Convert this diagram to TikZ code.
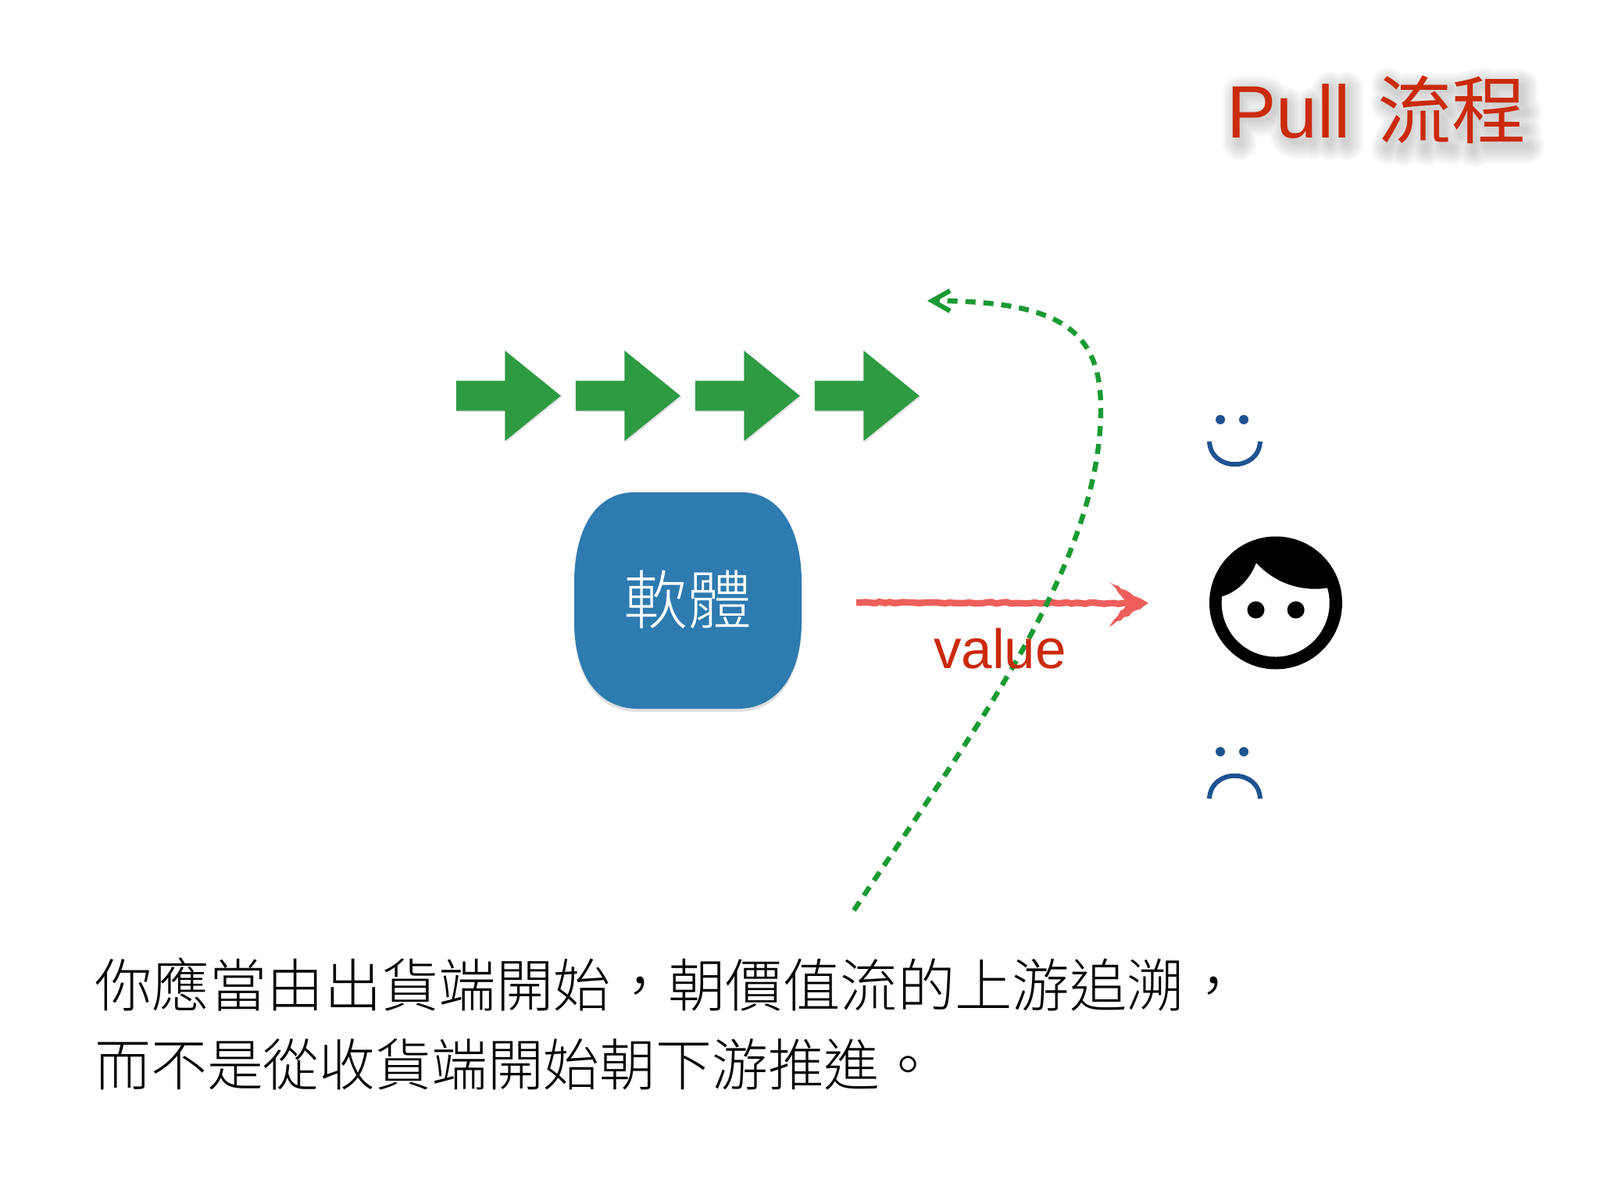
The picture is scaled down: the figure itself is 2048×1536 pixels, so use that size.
\documentclass[tikz,border=0pt]{standalone}
\usepackage{fontspec}
\usetikzlibrary{arrows.meta,shapes.arrows,decorations.pathmorphing}
\setmainfont{Liberation Sans}
\newfontfamily\cjk{Noto Sans CJK TC Light}
\newfontfamily\cjkreg{Noto Sans CJK TC}
\definecolor{titlered}{HTML}{CB2A0C}
\definecolor{flowgreen}{HTML}{2E9B43}
\definecolor{dashgreen}{HTML}{1A9A33}
\definecolor{boxblue}{HTML}{2E7BB0}
\definecolor{valuered}{HTML}{EE5F5B}
\definecolor{faceblue}{HTML}{1D5390}
\tikzset{
  x=0.5pt,y=-0.5pt,
  flowarrow/.style={single arrow,fill=flowgreen,draw=none,minimum height=67pt,minimum width=57.5pt,
    inner xsep=0pt,inner ysep=9.35pt,outer sep=0pt,single arrow head extend=19.4pt,single arrow tip angle=78,
    preaction={fill=black,opacity=.12,transform canvas={shift={(0.8pt,-0.8pt)}}}},
  titletext/.style={anchor=base west,inner sep=0pt,font=\fontsize{47.5}{50}\selectfont},
  caption/.style={anchor=west,inner sep=0pt,align=left,font=\cjk\fontsize{36.7}{50.5}\selectfont,text=black},
  facearc/.style={draw=faceblue,line width=3pt},
}
\begin{document}
\begin{tikzpicture}
\useasboundingbox (0,0) rectangle (2048,1536);
\fill[white] (0,0) rectangle (2048,1536);

% title shadow: letter skeletons, stacked soft strokes
\begin{scope}[shift={(1505,67)},x=0.16667pt,y=-0.16667pt]
\foreach \w in {4,7,10,13,16,19,22}{
  \draw[black!75,opacity=.034,line width=\w pt,line cap=round,line join=round]
    (245,348)--(245,155)--(330,155)..controls(395,155)and(395,255)..(330,255)--(245,255)
    (425,200)--(425,310)..controls(430,355)and(510,355)..(525,310)
    (525,200)--(525,345)
    (590,140)--(590,348)
    (655,140)--(655,348)
    (815,125)--(860,160)
    (812,195)--(860,230)
    (815,365)--(860,270)
    (880,145)--(1055,145)
    (890,225)--(1045,215)
    (1010,170)--(1050,235)
    (900,250)--(890,330)--(870,370)
    (960,250)--(960,370)
    (1025,250)--(1025,360)--(1060,365)
    (1095,145)--(1190,125)
    (1095,200)--(1190,200)
    (1145,130)--(1145,375)
    (1140,210)--(1090,315)
    (1145,235)--(1190,280)
    (1225,130)--(1325,130)--(1325,200)--(1225,200)--cycle
    (1205,245)--(1340,230)
    (1205,298)--(1340,298)
    (1270,235)--(1270,360)
    (1190,360)--(1350,360);
}
\end{scope}
% title
\node[titletext,text=titlered] (title) at (1570,176) {Pull\kern17.5pt{\cjkreg\fontsize{47.5}{50}\selectfont 流程}};

% flow arrows
\node[flowarrow] (a1) at (639,506.5) {};
\node[flowarrow] (a2) at (792,506.5) {};
\node[flowarrow] (a3) at (945,506.5) {};
\node[flowarrow] (a4) at (1098,506.5) {};

% software box
\path[fill=black,opacity=.12,shift={(0,4)}] (812,630) -- (949,630)
  .. controls (1000,630) and (1026,680) .. (1026,745) -- (1026,795)
  .. controls (1026,870) and (990,907) .. (945,907) -- (816,907)
  .. controls (770,907) and (735,870) .. (735,795) -- (735,745)
  .. controls (735,680) and (761,630) .. (812,630) -- cycle;
\path[fill=boxblue] (812,630) -- (949,630)
  .. controls (1000,630) and (1026,680) .. (1026,745) -- (1026,795)
  .. controls (1026,870) and (990,907) .. (945,907) -- (816,907)
  .. controls (770,907) and (735,870) .. (735,795) -- (735,745)
  .. controls (735,680) and (761,630) .. (812,630) -- cycle;
\node[text=white,inner sep=0pt,font=\cjk\fontsize{41}{45}\selectfont] (soft) at (880,767) {軟體};

% person
\node[circle,fill=black,draw=none,minimum size=85pt,inner sep=0pt] (person) at (1633,771.5) {};
\path[fill=white] (1699,752.5) arc[start angle=-16,end angle=186.7,radius=69]
  .. controls (1587,756.5) and (1601,738.5) .. (1608,720.5)
  .. controls (1632,746.5) and (1665,757.5) .. (1699,752.5) -- cycle;
\node[circle,fill=black,minimum size=11pt,inner sep=0pt] (eyeL) at (1607.5,780.5) {};
\node[circle,fill=black,minimum size=11pt,inner sep=0pt] (eyeR) at (1658.7,780.5) {};

% smile
\fill[faceblue] (1562,537) circle[radius=6];
\fill[faceblue] (1592,537) circle[radius=6];
\draw[facearc] (1548,565) .. controls (1550,604) and (1611,604) .. (1613,565);
% frown
\fill[faceblue] (1562,962) circle[radius=6];
\fill[faceblue] (1592,962) circle[radius=6];
\draw[facearc] (1548,1022) .. controls (1550,983) and (1611,983) .. (1613,1022);

% value arrow
\coordinate (vs) at (1096,771);
\coordinate (ve) at (1445,772);
\draw[valuered,line width=4.2pt,decorate,decoration={random steps,segment length=3pt,amplitude=0.5pt}] (vs) -- (ve);
\fill[valuered,decorate,decoration={random steps,segment length=3pt,amplitude=0.7pt}]
  (1420,745) -- (1470,772) -- (1420,802) -- (1443,772) -- cycle;

% dashed pull curve
\coordinate (ps) at (1093,1165);
\coordinate (pe) at (1187,385);
\draw[dashgreen,line width=3.2pt,dash pattern=on 6.5pt off 5pt,-{Straight Barb[length=11.5pt,width=13pt,line width=3pt]}]
  (ps) .. controls (1250,930) and (1409,720) .. (1409,523) .. controls (1409,425) and (1360,385) .. (pe);

\node[anchor=base,inner sep=0pt,text=titlered,font=\fontsize{35.5}{38}\selectfont] (value) at (1280,855) {value};

% caption
\node[caption] (cap) at (121,1310) {你應當由出貨端開始^^^^ff0c朝價值流的上游追溯^^^^ff0c\\\fontsize{35.9}{50.5}\selectfont 而不是從收貨端開始朝下游推進。};
\end{tikzpicture}
\end{document}
